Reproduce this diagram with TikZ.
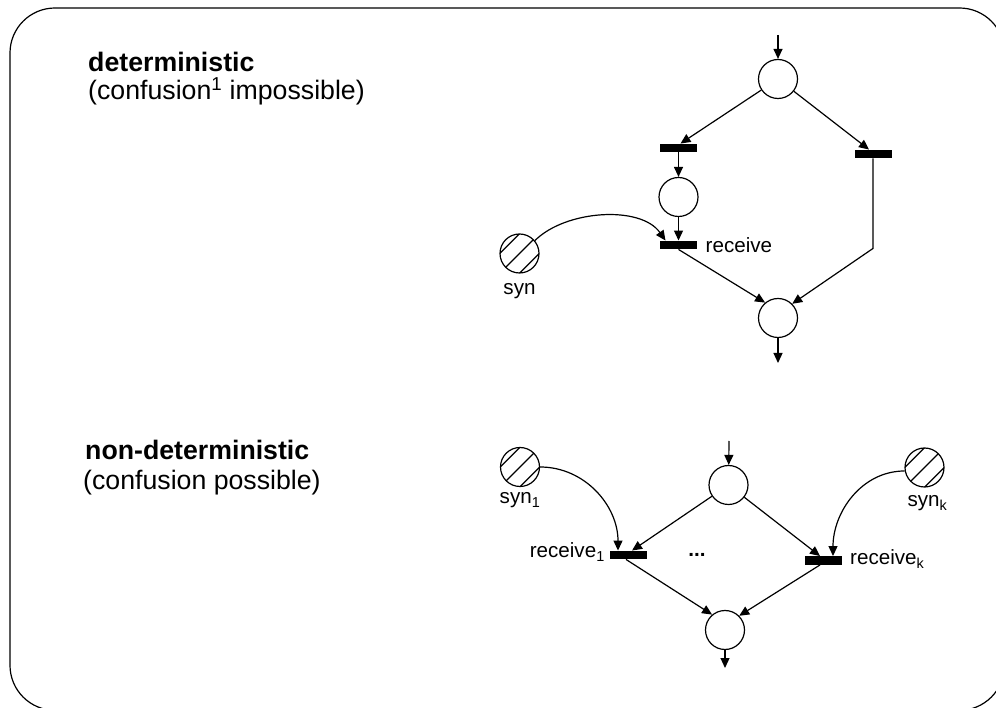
\documentclass[tikz,border=0pt]{standalone}
\usepackage{fontspec}
\setmainfont{Liberation Sans}
\usetikzlibrary{
  positioning,
  arrows.meta
  }
\tikzset{
  >={Triangle[length=10pt,width=9pt]},
  arc/.style={->, line width=1.2pt},
  place/.style={circle, draw, line width=1.2pt, minimum size=39pt, inner sep=0pt},
  trans/.style={fill=black, minimum width=37pt, minimum height=8.5pt, inner sep=0pt},
  hatchline/.style={line width=1.2pt},
  lab/.style={font=\fontsize{20.6}{24}\selectfont},
  title/.style={font=\fontsize{26.7}{30}\selectfont\bfseries, anchor=base west},
  note/.style={font=\fontsize{26.7}{30}\selectfont, anchor=base west},
}
% diagonal hatching inside a synchronisation place
\newcommand{\hatchplace}[1]{%
  \begin{scope}
    \clip (#1.center) circle (19.5pt);
    \foreach \xa/\ya in {-31.1/-11.3, -21.2/-21.2, -11.3/-31.1}
      \draw[hatchline] (#1.center) ++(\xa pt,\ya pt) -- ++(42.4pt,42.4pt);
  \end{scope}}

\begin{document}
\begin{tikzpicture}[x=1pt, y=1pt]
  \clip (0,0) rectangle (996,707);
  \draw[line width=1.2pt, rounded corners=45pt] (10,-3.3) rectangle (1004.5,699);
% =========================================================
% (A) deterministic
% =========================================================
  \node[title] (dettitle) at (84.7,635.3) {deterministic};
  \node[note] (detnote) at (84.7,607) {(confusion\textsuperscript{1} impossible)};
  \coordinate (in1) at (778,672);
  \node[place] (p1) at (778,628) {};
  \node[trans] (t1) at (678.5,559) {};
  \node[trans] (t2) at (873,553) {};
  \node[place] (p2) at (678.5,510) {};
  \node[trans] (t3) at (678.5,462) {};
  \node[place] (syn) at (519.5,453.5) {};
  \hatchplace{syn}
  \node[place] (p3) at (778,389) {};
  \coordinate (out1) at (778,344);
  \node[lab, right=5pt of t3] (t3lab) {receive};
  \node[lab, anchor=base] (synlab) at (519.5,412) {syn};
  \draw[arc] (in1) -- (p1);
  \draw[arc] (p1) -- ([xshift=2pt]t1.north);
  \draw[arc] (p1) -- ([xshift=-4pt]t2.north);
  \draw[arc] (t1) -- (p2);
  \draw[arc] (p2) -- (t3);
  \draw[arc] (syn.40) to[out=45, in=125, looseness=0.85] ([xshift=-13pt]t3.north);
  \draw[arc] (t3.south) -- (p3.130);
  \draw[arc] (t2.south) -- ++(0,-90) -- (p3.45);
  \draw[arc] (p3) -- (out1);
% =========================================================
% (B) non-deterministic
% =========================================================
  \node[title] (ndtitle) at (81.7,247) {non-deterministic};
  \node[note] (ndnote) at (79.7,217.7) {(confusion possible)};
  \coordinate (in2) at (729,266);
  \node[place] (p4) at (728.5,222) {};
  \node[trans] (r1) at (628,152) {};
  \node[trans] (rk) at (823,146.5) {};
  \node[place] (syn1) at (520,240) {};
  \hatchplace{syn1}
  \node[place] (synk) at (924.5,239.5) {};
  \hatchplace{synk}
  \node[place] (p5) at (725,77) {};
  \coordinate (out2) at (725,39);
  \node[lab, anchor=base] (syn1lab) at (520,203) {syn\textsubscript{1}};
  \node[lab, anchor=base] (synklab) at (927.5,200) {syn\textsubscript{k}};
  \node[lab, anchor=base east] (r1lab) at (608.3,149) {receive\textsubscript{1}};
  \node[lab, anchor=base west] (rklab) at (846.7,142) {receive\textsubscript{k}};
  \node[lab] (dots) at (697,152) {\textbf{...}};
  \draw[arc] (in2) -- (p4);
  \draw[arc] (p4) -- ([xshift=4pt]r1.north);
  \draw[arc] (p4) -- ([xshift=-3pt]rk.north);
  \draw[arc] (syn1.east) to[out=0, in=90] ([xshift=-10pt]r1.north);
  \draw[arc] (synk.190) to[out=180, in=90] ([xshift=10pt]rk.north);
  \draw[arc] ([xshift=-2pt]r1.south) -- (p5.130);
  \draw[arc] ([xshift=-3pt]rk.south) -- (p5.45);
  \draw[arc] (p5) -- (out2);
\end{tikzpicture}
\end{document}
